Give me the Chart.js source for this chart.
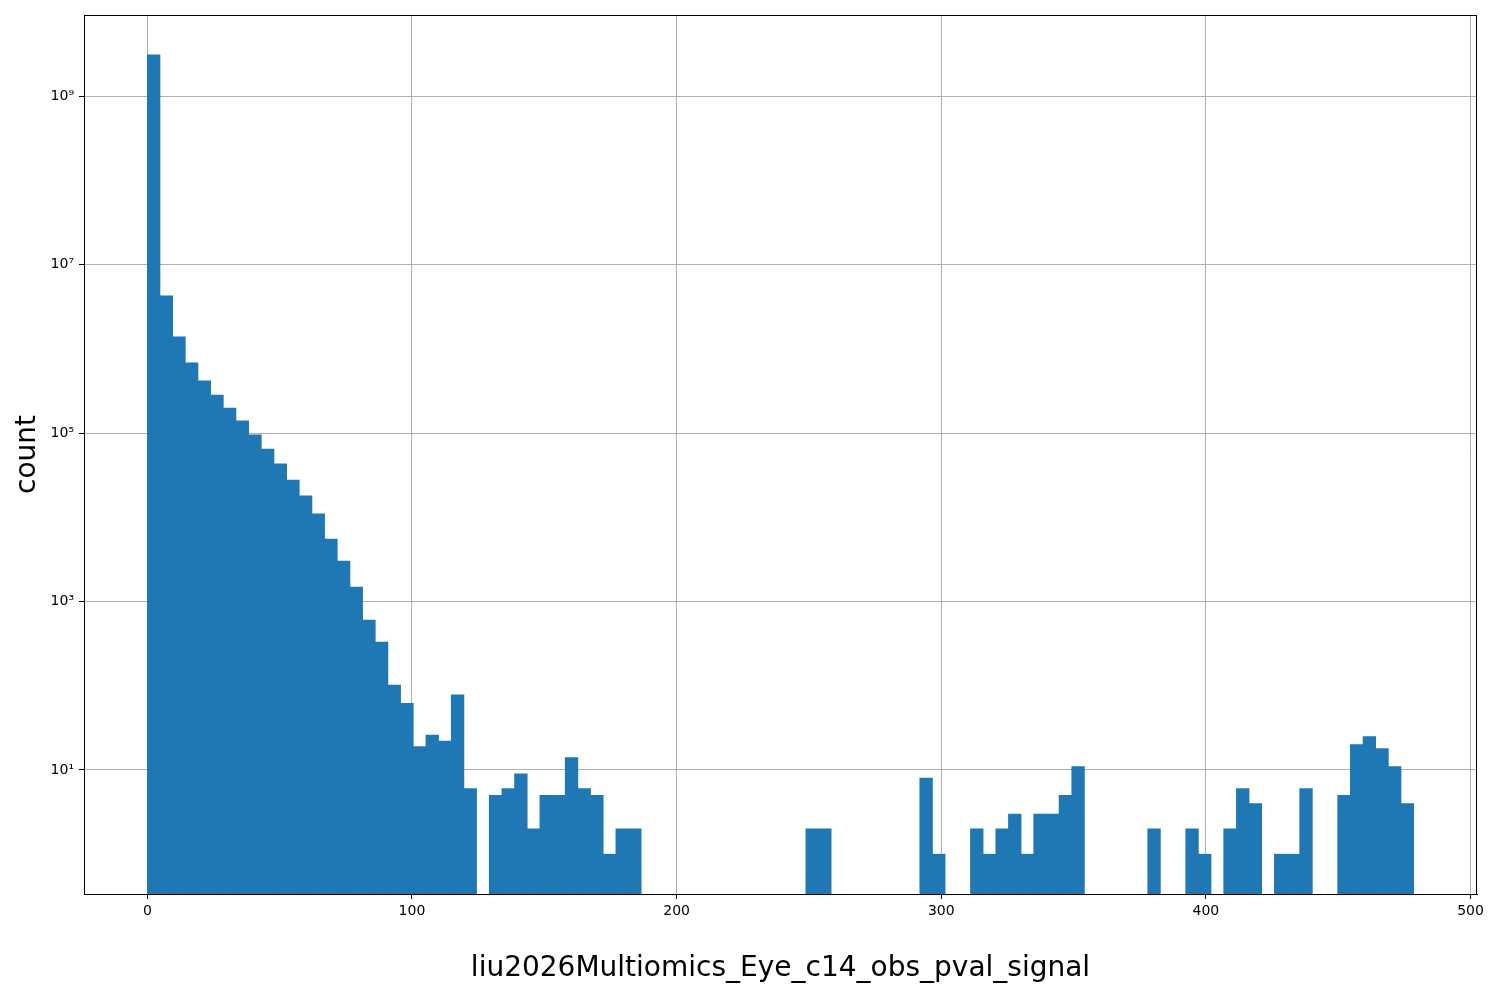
<!DOCTYPE html>
<html>
<head>
<meta charset="utf-8">
<script src="https://cdn.jsdelivr.net/npm/chart.js@4.4.1/dist/chart.umd.min.js"></script>
<style>
  html, body { margin: 0; padding: 0; background: #fff; }
  canvas { display: block; }
</style>
</head>
<body>
<canvas id="chart" width="1500" height="1000"></canvas>
<script>
// histogram bins: 100 bins of equal width starting at 0
const binStart = 0;
const binWidth = 4.785;
const counts = [
  3.1e9, 4.26e6, 1.39e6, 6.82e5, 4.17e5, 2.84e5, 1.99e5, 1.40e5, 9.52e4, 6.49e4,
  4.31e4, 2.78e4, 1.80e4, 1.10e4, 5540, 3035, 1490, 604, 331, 102,
  62, 19, 26, 22, 78, 6, null, 5, 6, 9,
  2, 5, 5, 14, 6, 5, 1, 2, 2, null,
  null, null, null, null, null, null, null, null, null, null,
  null, null, 2, 2, null, null, null, null, null, null,
  null, 8, 1, null, null, 2, 1, 2, 3, 1,
  3, 3, 5, 11, null, null, null, null, null, 2,
  null, null, 2, 1, null, 2, 6, 4, null, 1,
  1, 6, null, null, 5, 20, 25, 18, 11, 4
];
const xTicks = [0, 100, 200, 300, 400, 500];
const yTicks = [1e1, 1e3, 1e5, 1e7, 1e9];
const xLabel = 'liu2026Multiomics_Eye_c14_obs_pval_signal';
const yLabel = 'count';

const xMin = -23.93, xMax = 502.43;
const yMin = 0.3367, yMax = 9.24e9;

const barColor = '#1f77b4';
const gridColor = '#b0b0b0';
const fontFamily = "'DejaVu Sans', sans-serif";

const sup = { '0': '\u2070', '1': '\u00b9', '2': '\u00b2', '3': '\u00b3', '4': '\u2074',
  '5': '\u2075', '6': '\u2076', '7': '\u2077', '8': '\u2078', '9': '\u2079' };

const points = counts.map((c, i) => ({ x: binStart + (i + 0.5) * binWidth, y: c }));

// box around the whole axes, like matplotlib spines
const frame = {
  id: 'frame',
  afterDraw(chart) {
    const { ctx, chartArea: a } = chart;
    ctx.save();
    ctx.strokeStyle = '#000';
    ctx.lineWidth = 1;
    ctx.strokeRect(Math.round(a.left) + 0.5, Math.round(a.top) + 0.5,
      Math.round(a.right - a.left) - 1, Math.round(a.bottom - a.top));
    ctx.restore();
  }
};

Chart.defaults.font.family = fontFamily;
Chart.defaults.color = '#000';

new Chart(document.getElementById('chart').getContext('2d'), {
  type: 'bar',
  data: {
    datasets: [{
      data: points,
      backgroundColor: barColor,
      borderWidth: 0,
      barPercentage: 1,
      categoryPercentage: 1,
    }]
  },
  options: {
    responsive: false,
    animation: false,
    layout: { padding: { top: 15, right: 23, left: 0, bottom: 0 } },
    plugins: { legend: { display: false }, tooltip: { enabled: false } },
    scales: {
      x: {
        type: 'linear',
        min: xMin,
        max: xMax,
        offset: false,
        bounds: 'data',
        z: 1,
        afterBuildTicks: (s) => { s.ticks = xTicks.map(v => ({ value: v })); },
        afterFit: (s) => { s.height = 106; },
        grid: { offset: false, color: gridColor, tickColor: '#000', tickLength: 5, lineWidth: 1 },
        border: { color: '#000', width: 1 },
        ticks: { autoSkip: false, maxRotation: 0, padding: 4, font: { size: 14 } },
        title: { display: true, text: xLabel, font: { size: 28 }, padding: { top: 0, bottom: 14 } }
      },
      y: {
        type: 'logarithmic',
        min: yMin,
        max: yMax,
        bounds: 'data',
        z: 1,
        afterBuildTicks: (s) => { s.ticks = yTicks.map(v => ({ value: v })); },
        afterFit: (s) => { s.width = 84; },
        grid: { color: gridColor, tickColor: '#000', tickLength: 5, lineWidth: 1 },
        border: { color: '#000', width: 1 },
        ticks: {
          autoSkip: false,
          padding: 5,
          font: { size: 14 },
          callback: (v) => '10' + String(Math.round(Math.log10(v))).split('').map(d => sup[d]).join('')
        },
        title: { display: true, text: yLabel, font: { size: 28 }, padding: { top: 11, bottom: 0 } }
      }
    }
  },
  plugins: [frame]
});
</script>
</body>
</html>
